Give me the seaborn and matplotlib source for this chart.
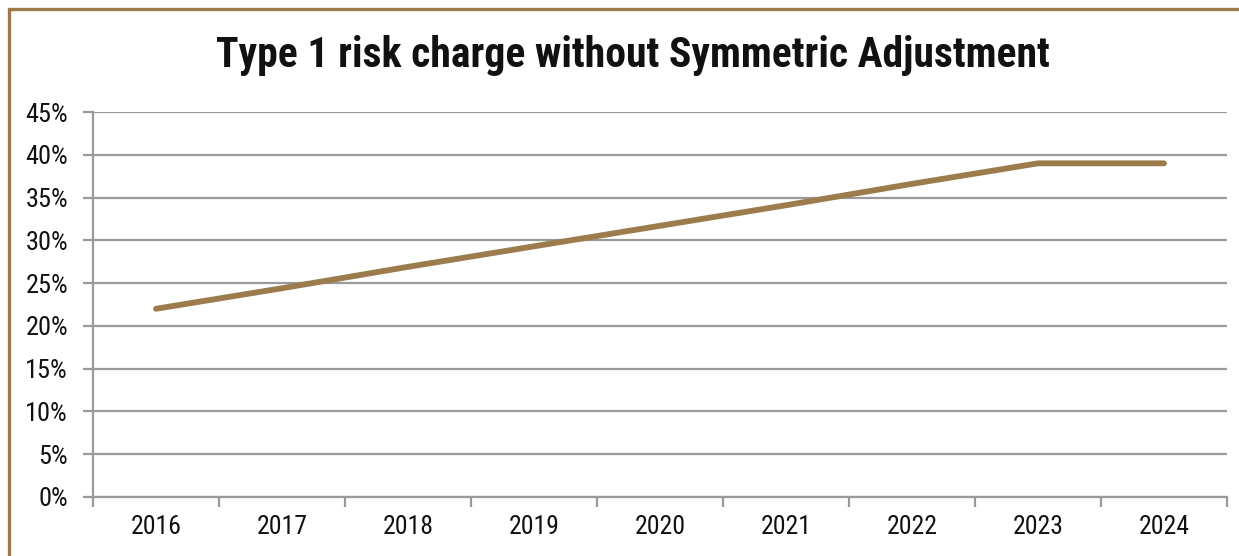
import matplotlib
matplotlib.use("Agg")
import matplotlib.pyplot as plt
from matplotlib import font_manager
from matplotlib.patches import Rectangle
from matplotlib.ticker import FixedLocator, PercentFormatter
import seaborn as sns
import pandas as pd

years = ["2016", "2017", "2018", "2019", "2020", "2021", "2022", "2023", "2024"]
charge = [22.0, 24.4, 26.9, 29.3, 31.7, 34.1, 36.6, 39.0, 39.0]
y_ticks = [0, 5, 10, 15, 20, 25, 30, 35, 40, 45]
title = "Type 1 risk charge without Symmetric Adjustment"

sns.set_theme(style="white")
available = set(f.name for f in font_manager.fontManager.ttflist)
cands = ["Arial Narrow", "Liberation Sans Narrow", "Roboto Condensed",
         "Archivo Narrow", "PT Sans Narrow", "Pragati Narrow", "Barlow Semi Condensed"]
narrow = [c for c in cands if c in available]
plt.rcParams['font.family'] = narrow[:1] + ['Liberation Sans', 'DejaVu Sans']

df = pd.DataFrame({"year": years, "charge": charge})

W, H = 1239, 556
fig = plt.figure(figsize=(W / 100, H / 100), dpi=100)
ax = fig.add_axes([93 / W, 1 - 497 / H, (1227 - 93) / W, (497 - 112) / H])

line_col = "#9C7B4C"
grid_col = "#9A9A9A"

sns.lineplot(data=df, x="year", y="charge", ax=ax, color=line_col,
             linewidth=4.2, solid_capstyle="round", sort=False)

ax.set_xlim(-0.5, len(years) - 0.5)
ax.set_ylim(0, 45)
ax.yaxis.set_major_locator(FixedLocator(y_ticks))
ax.yaxis.set_major_formatter(PercentFormatter(decimals=0))
ax.grid(axis="y", color=grid_col, linewidth=1.6)
ax.set_axisbelow(True)

ax.set_xticks(range(len(years)))
ax.set_xticklabels(years)
ax.set_xticks([i - 0.5 for i in range(len(years) + 1)], minor=True)
ax.tick_params(axis="x", which="major", length=0, pad=13, labelsize=18.5, labelcolor="#111111")
ax.tick_params(axis="x", which="minor", length=7, width=1.6, color=grid_col, direction="out")
ax.tick_params(axis="y", which="major", length=7, width=1.6, color=grid_col, direction="out",
               pad=11, labelsize=19, labelcolor="#111111")
ax.tick_params(left=True, bottom=True)
ax.xaxis.set_tick_params(which="minor", bottom=True)

ax.set_xlabel("")
ax.set_ylabel("")
for s in ["top", "right"]:
    ax.spines[s].set_visible(False)
for s in ["left", "bottom"]:
    ax.spines[s].set_color(grid_col)
    ax.spines[s].set_linewidth(1.6)

fig.text(633 / W, 1 - 55 / H, title, ha="center", va="center",
         fontsize=30, fontweight="bold", color="#111111")

fig.patches.append(Rectangle((9 / W, -0.1), 1.2, 1.1 - 9 / H,
                             transform=fig.transFigure, fill=False,
                             edgecolor="#9C7A4A", linewidth=2.4))

fig.savefig("out.png", dpi=100)
